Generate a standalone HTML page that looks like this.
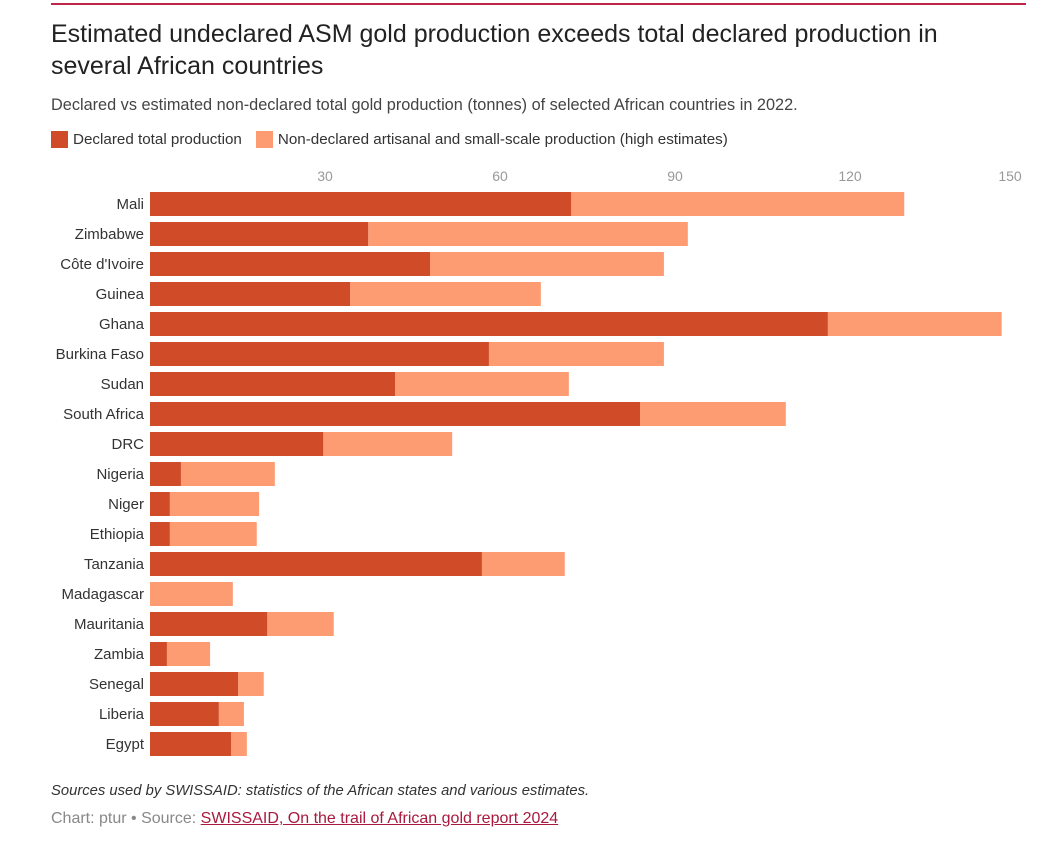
<!DOCTYPE html>
<html><head><meta charset="utf-8"><style>
body{margin:0;width:1046px;height:860px;background:#fff;font-family:"Liberation Sans",sans-serif;position:relative;overflow:hidden}
.t{position:absolute;left:51px;color:#333}
</style></head><body>
<div style="position:absolute;left:51px;top:3px;width:975px;height:2px;background:#c1264a"></div>
<div class="t" style="top:18px;font-size:25px;line-height:32px;color:#222;width:960px">Estimated undeclared ASM gold production exceeds total declared production in several African countries</div>
<div class="t" style="top:96px;font-size:16.3px;color:#444">Declared vs estimated non-declared total gold production (tonnes) of selected African countries in 2022.</div>
<div class="t" style="top:131px;font-size:15.2px;color:#333;display:flex;align-items:center">
<span style="width:17px;height:17px;background:#d04b27;margin-right:5px"></span><span style="margin-right:14px">Declared total production</span>
<span style="width:17px;height:17px;background:#fd9b72;margin-right:5px"></span><span>Non-declared artisanal and small-scale production (high estimates)</span></div>
<svg id="c" width="1046" height="780" style="position:absolute;left:0;top:0"></svg>
<div class="t" style="top:783px;font-size:14.8px;font-style:italic;color:#333">Sources used by SWISSAID: statistics of the African states and various estimates.</div>
<div class="t" style="top:810px;font-size:16px;color:#888">Chart: ptur • Source: <a style="color:#a8193d;text-decoration:underline">SWISSAID, On the trail of African gold report 2024</a></div>
<script>
const categories=["Mali","Zimbabwe","Côte d'Ivoire","Guinea","Ghana","Burkina Faso","Sudan","South Africa","DRC","Nigeria","Niger","Ethiopia","Tanzania","Madagascar","Mauritania","Zambia","Senegal","Liberia","Egypt"];
const declared=[72.2,37.4,48,34.3,116.2,58.1,42,84,29.7,5.3,3.4,3.4,56.9,0,20.1,2.9,15.1,11.8,13.9];
const totals=[129.3,92.2,88.1,67,146,88.1,71.8,109,51.8,21.4,18.7,18.3,71.1,14.2,31.5,10.3,19.5,16.1,16.6];
const ticks=[30,60,90,120,150];
const svg=document.getElementById('c'),NS='http://www.w3.org/2000/svg';
const x=v=>150+v*175/30, y=i=>192+i*30;
function mk(t,a){const e=document.createElementNS(NS,t);for(const k in a)e.setAttribute(k,a[k]);svg.appendChild(e);return e;}
ticks.forEach(t=>{const e=mk('text',{x:t===150?Math.min(x(t),1010):x(t),y:181,'text-anchor':'middle','font-size':14,fill:'#999'});e.textContent=t;

});
categories.forEach((c,i)=>{
const l=mk('text',{x:144,y:y(i)+17,'text-anchor':'end','font-size':15,fill:'#333'});l.textContent=c;


const b2=mk('rect',{x:x(declared[i]),y:y(i),width:Math.max(0,x(totals[i])-x(declared[i])),height:24,fill:'#fd9b72'});


const b1=mk('rect',{x:x(0),y:y(i),width:x(declared[i])-x(0),height:24,fill:'#d04b27'});


});
</script>
</body></html>
